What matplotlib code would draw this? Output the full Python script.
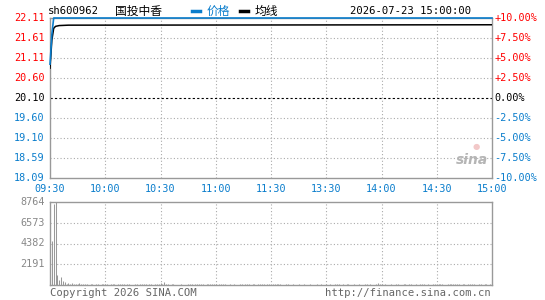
import matplotlib
matplotlib.use("Agg")
import matplotlib.pyplot as plt

# price panel labels
price_ticks = [22.11, 21.61, 21.11, 20.60, 20.10, 19.60, 19.10, 18.59, 18.09]
pct_labels = ["+10.00%", "+7.50%", "+5.00%", "+2.50%", "0.00%",
              "-2.50%", "-5.00%", "-7.50%", "-10.00%"]
prev_close = 20.10

time_ticks = [0, 30, 60, 90, 120, 150, 180, 210, 240]
time_labels = ["09:30", "10:00", "10:30", "11:00", "11:30",
               "13:30", "14:00", "14:30", "15:00"]

# price line and average line vertices (minute, value)
price_t = [0, 0.5, 1, 2, 240]
price_v = [20.95, 21.3, 21.7, 22.11, 22.11]
avg_t = [0, 1, 2, 3, 5, 10, 240]
avg_v = [20.85, 21.55, 21.85, 21.9, 21.92, 21.93, 21.94]

# volume per minute
vol_ticks = [2191, 4382, 6573, 8764]
volume = [
    800, 4600, 8600, 8764, 1100, 500, 850, 450, 300, 150,
    250, 100, 200, 100, 150, 100, 200, 100, 150, 100,
    100, 0, 100, 100, 0, 100, 100, 0, 100, 100,
    100, 100, 0, 100, 100, 100, 0, 100, 100, 100,
    100, 0, 100, 100, 0, 0, 100, 100, 0, 100,
    100, 100, 100, 0, 100, 100, 0, 100, 100, 150,
    200, 100, 350, 100, 100, 0, 100, 100, 0, 0,
    0, 100, 0, 0, 0, 100, 100, 100, 0, 100,
    100, 100, 100, 100, 0, 100, 100, 100, 100, 100,
    100, 0, 100, 100, 100, 100, 0, 0, 100, 0,
    100, 0, 0, 100, 100, 0, 100, 100, 100, 0,
    100, 100, 0, 100, 100, 100, 100, 0, 100, 100,
    0, 100, 100, 100, 100, 100, 0, 0, 100, 100,
    0, 0, 100, 0, 0, 100, 0, 0, 100, 0,
    0, 100, 0, 0, 0, 100, 0, 100, 0, 0,
    100, 0, 100, 0, 0, 100, 100, 100, 0, 100,
    0, 100, 100, 0, 0, 100, 0, 0, 100, 0,
    0, 100, 100, 0, 100, 0, 0, 100, 200, 100,
    100, 0, 100, 0, 0, 100, 0, 0, 100, 100,
    0, 0, 100, 100, 0, 100, 100, 0, 0, 100,
    0, 100, 100, 100, 0, 100, 0, 0, 100, 100,
    0, 100, 100, 100, 0, 0, 100, 100, 100, 100,
    100, 100, 100, 0, 100, 100, 0, 100, 100, 100,
    100, 0, 0, 100, 100, 0, 100, 100, 0, 100,
    100,
]

RED = "#ff0000"
BLUE = "#0a7dcc"
GRAY = "#999999"
GRID = "#aaaaaa"
mono = "DejaVu Sans Mono"
fs = 7.3
cjk = ["Noto Sans CJK SC", "DejaVu Sans"]

W, H = 545, 300
fig = plt.figure(figsize=(W / 100, H / 100), dpi=100)
fig.patch.set_facecolor("white")

x0, x1 = 50, 492
ax = fig.add_axes([x0 / W, (H - 178) / H, (x1 - x0) / W, 160 / H])
axv = fig.add_axes([x0 / W, (H - 285) / H, (x1 - x0) / W, 83 / H])

for a in (ax, axv):
    a.set_xlim(0, 240)
    a.set_xticks([])
    a.set_yticks([])
    for s in a.spines.values():
        s.set_color(GRAY)
        s.set_linewidth(1)
    for t in time_ticks[1:-1]:
        a.axvline(t, color=GRID, lw=0.8, ls=(0, (1, 2)), zorder=1)

# price panel
ax.set_ylim(price_ticks[-1], price_ticks[0])
for p in price_ticks[1:-1]:
    if p == prev_close:
        ax.axhline(p, color="black", lw=0.8, ls=(0, (2, 2)), zorder=1)
    else:
        ax.axhline(p, color=GRID, lw=0.8, ls=(0, (1, 2)), zorder=1)

for p, lab in zip(price_ticks, pct_labels):
    if p > prev_close:
        c = RED
    elif p < prev_close:
        c = BLUE
    else:
        c = "black"
    ax.text(-0.012, p, f"{p:.2f}", transform=ax.get_yaxis_transform(),
            ha="right", va="center", color=c, fontsize=fs, family=mono)
    ax.text(1.006, p, lab, transform=ax.get_yaxis_transform(),
            ha="left", va="center", color=c, fontsize=fs, family=mono)

ax.plot(avg_t, avg_v, color="black", lw=1.1, zorder=3)
ax.plot(price_t, price_v, color=BLUE, lw=1.2, zorder=4, clip_on=False)

for t, lab in zip(time_ticks, time_labels):
    ax.text(t, -0.035, lab, transform=ax.get_xaxis_transform(),
            ha="center", va="top", color=BLUE, fontsize=fs, family=mono)

# sina watermark
ax.text(0.955, 0.11, "sina", transform=ax.transAxes, ha="center",
        va="center", fontsize=10, color="#b5b5b5", style="italic",
        fontweight="bold", zorder=2)
ax.text(0.963, 0.2, "●", transform=ax.transAxes, ha="center",
        va="center", fontsize=6, color="#f2c8c8", zorder=2)

# volume panel
axv.set_ylim(0, vol_ticks[-1])
axv.vlines(range(len(volume)), 0, volume, colors="#999999", lw=0.75,
           zorder=2)
for v in vol_ticks:
    if v < vol_ticks[-1]:
        axv.axhline(v, color=GRID, lw=0.8, ls=(0, (1, 2)), zorder=1)
    axv.text(-0.012, v, str(v), transform=axv.get_yaxis_transform(),
             ha="right", va="center", color="#888888", fontsize=fs,
             family=mono)

# header
yh = 1 - 11 / H
fig.text(48 / W, yh, "sh600962", ha="left", va="center",
         fontsize=fs + 0.3, family=mono, color="black")
fig.text(115 / W, yh, "国投中香", ha="left", va="center",
         fontsize=8.5, family=cjk, color="black")
fig.lines.append(plt.Line2D([192 / W, 200 / W], [yh, yh],
                            transform=fig.transFigure, color=BLUE, lw=2.5))
fig.text(207 / W, yh, "价格", ha="left", va="center",
         fontsize=8.5, family=cjk, color=BLUE)
fig.lines.append(plt.Line2D([240 / W, 248 / W], [yh, yh],
                            transform=fig.transFigure, color="black", lw=2.5))
fig.text(255 / W, yh, "均线", ha="left", va="center",
         fontsize=8.5, family=cjk, color="black")
fig.text(471 / W, yh, "2026-07-23 15:00:00", ha="right",
         va="center", fontsize=fs + 0.3, family=mono, color="black")

# footer
fig.text(50 / W, 1 - 293 / H, "Copyright 2026 SINA.COM", ha="left",
         va="center", fontsize=fs + 0.3, family=mono, color="#666666")
fig.text(491 / W, 1 - 293 / H, "http://finance.sina.com.cn", ha="right",
         va="center", fontsize=fs + 0.3, family=mono, color="#666666")

fig.savefig("out.png", dpi=100)
